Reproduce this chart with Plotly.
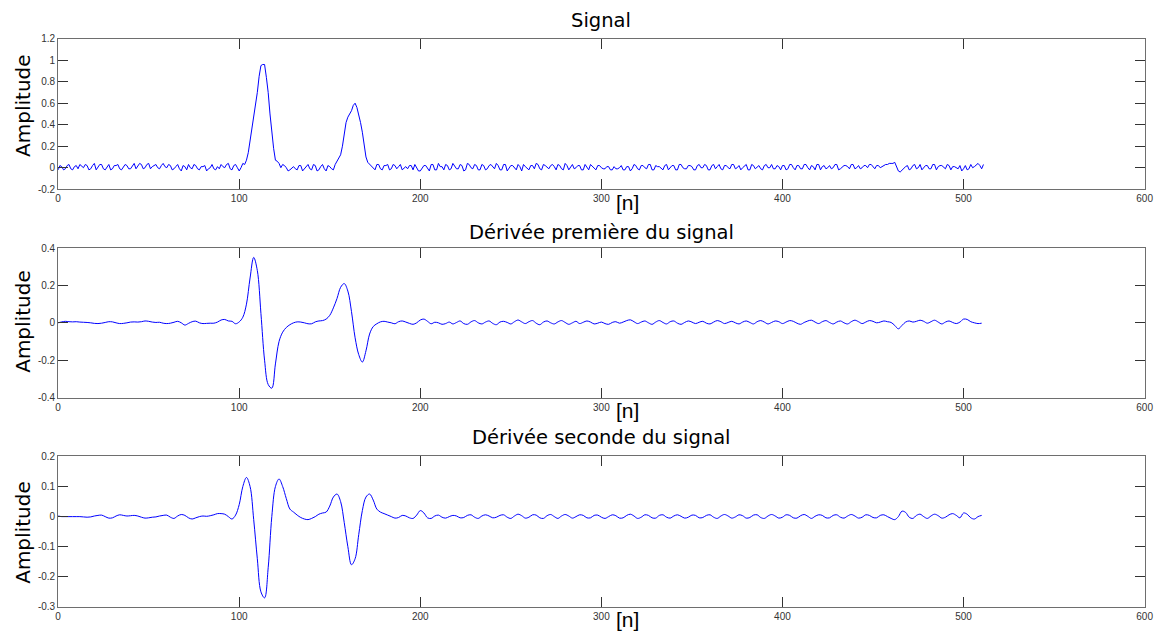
import plotly.graph_objects as go
from plotly.subplots import make_subplots

# ---------------- data ----------------
# even samples n = 0, 2, ..., 510
n_even = list(range(0, 512, 2))
# odd samples n = 1, 3, ..., 511
n_odd = list(range(1, 512, 2))

signal_even = [
    -0.02, 0.01, -0.01, 0.03, -0.02, 0.02, 0.03, 0.0, 0.02, -0.01,
    0.04, 0.0, 0.03, -0.02, 0.03, -0.01, 0.02, -0.01, 0.01, 0.02,
    -0.01, 0.04, 0.01, 0.03, 0.0, 0.04, 0.01, 0.03, -0.01, 0.04,
    0.0, 0.02, -0.01, 0.03, -0.03, 0.01, 0.03, -0.01, 0.02, -0.02,
    0.01, -0.03, 0.0, -0.01, 0.01, 0.03, 0.0, 0.04, -0.02, 0.03,
    -0.03, 0.04,
    0.07, 0.25, 0.45, 0.7, 0.95, 0.96, 0.7, 0.3, 0.07, 0.04,
    0.03, 0.0, -0.02, 0.01, -0.02, 0.02, -0.01, 0.03, -0.02, 0.02,
    -0.02, 0.03, -0.03, 0.01, -0.02, 0.06, 0.12, 0.3, 0.47, 0.53,
    0.6, 0.5, 0.33, 0.1, 0.03,
    0.0, 0.03, -0.01, 0.02, 0.03, -0.01, 0.02, 0.01, -0.02, 0.01,
    0.02, -0.02, 0.0, -0.03, 0.02, -0.01, 0.03, -0.02, 0.04, 0.01,
    0.03, -0.02, 0.04, -0.01, 0.03, -0.03, 0.04, 0.0, 0.03, -0.02,
    0.03, -0.02, 0.02, 0.01, 0.04, -0.02, 0.03, -0.03, 0.02, 0.0,
    0.03, -0.03, 0.01, -0.02, 0.02, 0.04, -0.01, 0.03, 0.0, 0.02,
    0.01, 0.03, -0.01, 0.04, -0.02, 0.03, 0.0, 0.02, -0.02, 0.01,
    0.03, -0.01, 0.02, 0.0, -0.01, 0.01, -0.02, -0.01, 0.0, -0.02,
    0.01, -0.03, 0.03, -0.01, 0.02, 0.0, 0.03, -0.02, 0.02, 0.01,
    -0.02, 0.03, 0.0, 0.02, -0.02, 0.03, -0.01, 0.02, 0.01, -0.02,
    0.03, 0.0, 0.02, -0.02, 0.03, 0.01, -0.01, 0.02, 0.0, 0.03,
    -0.01, 0.02, 0.0, 0.03, -0.02, 0.02, 0.01, -0.01, 0.02, 0.0,
    0.03, -0.01, 0.01, 0.02, -0.02, 0.03, 0.0, 0.02, -0.01, 0.03,
    0.0, 0.02, -0.02, 0.03, 0.01, -0.01, 0.02, 0.0, 0.03, -0.01,
    0.02, 0.01, 0.03, -0.01, 0.02, 0.0, 0.02, 0.03, 0.01, 0.02,
    0.0, 0.02, 0.03, 0.04, 0.05, -0.03, -0.02, 0.01, -0.02, 0.02,
    -0.01, 0.03, 0.0, 0.02, -0.01, 0.03, 0.01, 0.02, -0.01, 0.02,
    0.01, 0.0, 0.02, -0.01, -0.02, 0.03, 0.01, 0.04, -0.01,
]

signal_odd = [
    0.02, -0.02, 0.02, -0.01, 0.01, -0.01, 0.01, 0.03, -0.02, 0.02,
    -0.02, 0.03, -0.01, 0.01, -0.02, 0.02, 0.03, -0.02, 0.03, -0.01,
    0.02, -0.01, 0.04, -0.01, 0.03, -0.01, 0.02, 0.0, 0.02, 0.01,
    0.03, -0.02, 0.01, -0.01, 0.02, -0.02, 0.0, 0.03, -0.01, 0.01,
    0.02, -0.01, 0.03, -0.02, -0.01, 0.01, 0.03, -0.01, 0.02, 0.0,
    0.0, 0.03, 0.14, 0.36, 0.58, 0.85, 0.96, 0.84, 0.5, 0.18,
    0.06, 0.0, 0.02, -0.03, 0.0, -0.01, 0.02, -0.03, 0.01, -0.01,
    0.03, -0.03, 0.01, -0.01, 0.02, -0.01, 0.03, 0.08, 0.2, 0.42,
    0.5, 0.58, 0.56, 0.42, 0.22, 0.05, 0.02, -0.02, 0.03, -0.02,
    0.02, -0.02, 0.03, -0.01, 0.03, 0.0, -0.01, 0.02, 0.03, -0.03,
    0.0, 0.02, -0.03, 0.03, -0.02, 0.01, -0.02, 0.02, -0.01, 0.02,
    -0.01, 0.02, -0.02, 0.03, -0.01, 0.02, -0.02, 0.02, -0.01, 0.03,
    -0.01, 0.02, -0.02, 0.03, -0.01, 0.02, -0.02, 0.01, 0.03, -0.01,
    0.02, -0.01, 0.03, -0.02, 0.02, -0.01, 0.03, -0.02, 0.02, -0.02,
    0.02, 0.0, -0.01, 0.02, -0.02, 0.03, -0.02, 0.01, -0.02, 0.02,
    -0.01, 0.01, -0.02, 0.01, -0.01, 0.02, -0.02, 0.01, -0.01, 0.02,
    -0.02, 0.02, -0.01, 0.03, -0.02, 0.01, -0.01, 0.02, -0.02, 0.02,
    -0.02, 0.03, 0.0, -0.01, 0.02, -0.02, 0.02, 0.0, 0.03, -0.02,
    0.02, -0.01, 0.03, -0.02, 0.02, -0.01, 0.03, 0.0, -0.02, 0.02,
    -0.02, 0.03, -0.01, 0.02, -0.02, 0.03, 0.0, -0.01, 0.02, -0.02,
    0.02, -0.01, 0.03, -0.02, 0.02, -0.01, 0.03, -0.02, 0.01, 0.03,
    -0.02, 0.02, 0.0, -0.01, 0.03, -0.02, 0.01, 0.02, -0.01, 0.03,
    0.0, -0.01, 0.02, 0.0, 0.03, -0.01, 0.02, 0.01, 0.03, 0.04,
    0.04, 0.01, -0.04, 0.0, 0.02, -0.01, 0.03, 0.0, -0.02, 0.02,
    -0.01, 0.03, -0.02, 0.02, 0.0, 0.03, -0.02, 0.01, -0.01, -0.03,
    0.02, -0.01, 0.0, 0.03, 0.02, 0.03,
]

deriv1 = [
    0.0, 0.005, 0.008, 0.006, 0.005, 0.006, 0.004, 0.003, 0.002, 0.0,
    -0.003, -0.004, -0.002, 0.002, 0.006, 0.005, 0.0, -0.004, -0.003, 0.0,
    0.004, 0.005, 0.004, 0.006, 0.01, 0.008, 0.004, 0.002, 0.003, -0.002,
    -0.004, -0.002, 0.003, 0.008, 0.0, -0.012, -0.003, 0.006, 0.009, 0.0,
    -0.004, -0.003, -0.002, -0.002, 0.004, 0.015, 0.018, 0.01, 0.008, -0.005,
    0.005, 0.03, 0.1, 0.24, 0.35, 0.28, 0.05, -0.2, -0.33, -0.35,
    -0.22, -0.1, -0.05, -0.025, -0.01, 0.0, 0.005, 0.004, 0.0, -0.005,
    -0.005, 0.005, 0.01, 0.012, 0.02, 0.04, 0.08, 0.13, 0.19, 0.21,
    0.17, 0.06, -0.08, -0.17, -0.21, -0.15, -0.06, -0.02, -0.005, 0.005,
    0.008, 0.004, 0.0, -0.005, 0.006, 0.01, 0.004, -0.003, -0.008, 0.0,
    0.015, 0.02, 0.008, -0.005, 0.003, 0.0, -0.008, -0.004, 0.004, -0.006,
    0.002, 0.01, -0.004, -0.008, 0.005, 0.012, 0.0, -0.006, 0.004, 0.01,
    -0.003, -0.01, 0.004, 0.008, 0.002, -0.006, 0.006, 0.015, 0.005, -0.004,
    0.006, 0.012, -0.002, -0.01, 0.004, 0.01, 0.0, -0.006, 0.005, 0.012,
    0.002, -0.008, 0.0, 0.008, -0.004, 0.003, 0.01, 0.004, -0.006, -0.002,
    0.004, -0.004, -0.008, 0.002, 0.006, -0.002, 0.004, 0.012, 0.016, 0.006,
    -0.004, 0.004, 0.01, 0.0, -0.008, 0.004, 0.012, 0.002, -0.006, 0.006,
    0.01, -0.002, -0.008, 0.002, 0.01, 0.004, -0.004, 0.003, 0.008, -0.002,
    -0.006, 0.004, 0.012, 0.006, -0.004, 0.002, 0.008, 0.0, -0.006, 0.004,
    0.01, 0.002, -0.006, 0.006, 0.012, 0.004, -0.006, 0.002, 0.01, 0.006,
    -0.004, 0.004, 0.012, 0.008, -0.002, -0.008, 0.002, 0.01, 0.014, 0.004,
    -0.004, 0.006, 0.012, 0.002, -0.006, 0.004, 0.01, 0.0, -0.006, 0.006,
    0.014, 0.006, -0.004, 0.004, 0.012, 0.008, 0.0, 0.004, 0.01, 0.006,
    0.002, -0.014, -0.032, -0.014, 0.004, 0.01, 0.004, 0.008, 0.014, 0.008,
    -0.002, 0.006, 0.014, 0.004, -0.006, 0.004, 0.01, 0.002, -0.004, 0.004,
    0.02, 0.018, 0.006, 0.0, -0.004, -0.002,
]

deriv2 = [
    0.002, 0.0, 0.0, 0.0, 0.0, 0.0, 0.0, -0.001, -0.002, -0.001,
    0.002, 0.004, 0.005, 0.0, -0.005, -0.004, 0.002, 0.006, 0.004, 0.002,
    0.003, 0.004, 0.002, -0.002, -0.005, -0.004, -0.002, -0.001, 0.002, 0.004,
    0.005, -0.002, -0.006, 0.002, 0.007, 0.004, -0.004, -0.008, -0.004, 0.0,
    0.002, 0.001, 0.003, 0.006, 0.01, 0.01, 0.008, 0.0, -0.008, 0.005,
    0.04, 0.1, 0.13, 0.1, -0.01, -0.14, -0.25, -0.27, -0.17, 0.0,
    0.1, 0.125, 0.1, 0.06, 0.025, 0.015, 0.005, -0.003, -0.008, -0.01,
    -0.006, 0.0, 0.008, 0.012, 0.015, 0.035, 0.065, 0.075, 0.05, -0.02,
    -0.1, -0.16, -0.14, -0.06, 0.02, 0.065, 0.075, 0.055, 0.025, 0.015,
    0.01, 0.005, 0.0, -0.005, -0.003, 0.004, 0.002, -0.004, -0.006, 0.005,
    0.02, 0.012, -0.004, -0.006, 0.002, 0.005, -0.002, -0.005, 0.0, 0.004,
    0.002, -0.004, -0.003, 0.004, 0.006, -0.002, -0.006, 0.002, 0.006, 0.002,
    -0.004, -0.002, 0.004, 0.006, -0.002, -0.006, 0.002, 0.008, 0.003, -0.005,
    -0.002, 0.006, 0.005, -0.004, -0.006, 0.003, 0.007, 0.0, -0.006, 0.002,
    0.007, 0.002, -0.005, 0.0, 0.006, 0.004, -0.004, -0.004, 0.004, 0.005,
    -0.002, -0.006, 0.0, 0.006, 0.003, -0.005, -0.004, 0.004, 0.008, 0.002,
    -0.006, -0.002, 0.006, 0.004, -0.004, -0.005, 0.004, 0.006, -0.002, -0.005,
    0.002, 0.006, 0.001, -0.005, -0.002, 0.005, 0.004, -0.004, -0.003, 0.004,
    0.006, -0.002, -0.006, 0.002, 0.007, 0.002, -0.005, -0.001, 0.006, 0.003,
    -0.005, -0.003, 0.005, 0.006, -0.003, -0.006, 0.002, 0.007, 0.002, -0.005,
    -0.002, 0.006, 0.004, -0.004, -0.005, 0.003, 0.007, 0.001, -0.006, 0.001,
    0.006, 0.004, -0.004, -0.004, 0.004, 0.006, -0.002, -0.005, 0.002, 0.007,
    0.002, -0.005, -0.002, 0.006, 0.004, -0.003, -0.004, 0.004, 0.006, 0.0,
    -0.006, -0.01, 0.0, 0.018, 0.014, -0.002, -0.006, 0.004, 0.008, 0.0,
    -0.006, 0.002, 0.008, 0.003, -0.005, -0.002, 0.006, 0.01, 0.004, -0.004,
    0.012, 0.008, -0.004, -0.008, 0.0, 0.004,
]

titles = ["Signal", "Dérivée première du signal", "Dérivée seconde du signal"]
x_ticks = [0, 100, 200, 300, 400, 500, 600]
y_ticks = [
    [-0.2, 0, 0.2, 0.4, 0.6, 0.8, 1, 1.2],
    [-0.4, -0.2, 0, 0.2, 0.4],
    [-0.3, -0.2, -0.1, 0, 0.1, 0.2],
]
y_ticktext = [
    ["-0.2", "0", "0.2", "0.4", "0.6", "0.8", "1", "1.2"],
    ["-0.4", "-0.2", "0", "0.2", "0.4"],
    ["-0.3", "-0.2", "-0.1", "0", "0.1", "0.2"],
]

# merge even/odd samples of the signal into one series ordered by n
n_signal = [v for pair in zip(n_even, n_odd) for v in pair]
signal = [v for pair in zip(signal_even, signal_odd) for v in pair]

series_x = [n_signal, n_even, n_even]
series_y = [signal, deriv1, deriv2]
shapes_line = ["linear", "spline", "spline"]

# ---------------- layout (pixel geometry) ----------------
W, H = 1166, 643
x_left, x_right = 55.7, 1153.5
panels_px = [(33.3, 186.7), (246.7, 399.0), (459.0, 612.3)]
title_y_px = [15.0, 230.5, 440.0]
ylabel_y_px = [101, 321, 536]
xlabel_y_px = [200.0, 412.5, 625.5]


def px_x(p):
    return p / W


def px_y(p):
    return 1 - p / H


fig = make_subplots(rows=3, cols=1)
axis_col = "#6e6e6e"
tick_col = "#333333"
font_lab = dict(family="Liberation Sans, Arial, sans-serif", size=10, color="#333333")

annotations = []
for i in range(3):
    r = i + 1
    line = dict(color="#0000ff", width=1, shape=shapes_line[i])
    if shapes_line[i] == "spline":
        line["smoothing"] = 1.0
    fig.add_trace(
        go.Scatter(x=series_x[i], y=series_y[i], mode="lines",
                   line=line, showlegend=False),
        row=r, col=1,
    )
    top, bot = panels_px[i]
    fig.update_xaxes(
        domain=[px_x(x_left), px_x(x_right)], range=[0, 600],
        tickvals=x_ticks, ticktext=[str(v) for v in x_ticks],
        ticks="inside", ticklen=10, tickcolor=tick_col, tickwidth=1,
        showline=True, linecolor=axis_col, linewidth=1, mirror="ticks",
        showgrid=False, zeroline=False, tickfont=font_lab,
        row=r, col=1,
    )
    fig.update_yaxes(
        domain=[px_y(bot), px_y(top)], range=[y_ticks[i][0], y_ticks[i][-1]],
        tickvals=y_ticks[i], ticktext=y_ticktext[i],
        ticks="inside", ticklen=10, tickcolor=tick_col, tickwidth=1,
        showline=True, linecolor=axis_col, linewidth=1, mirror="ticks",
        showgrid=False, zeroline=False, tickfont=font_lab,
        row=r, col=1,
    )
    annotations.append(dict(
        text=titles[i], x=px_x((x_left + x_right) / 2), y=px_y(title_y_px[i]),
        xref="paper", yref="paper", xanchor="center", yanchor="middle",
        showarrow=False, font=dict(family="DejaVu Sans", size=19.5, color="#000000"),
    ))
    annotations.append(dict(
        text="Amplitude", x=px_x(20), y=px_y(ylabel_y_px[i]), textangle=-90,
        xref="paper", yref="paper", xanchor="center", yanchor="middle",
        showarrow=False, font=dict(family="DejaVu Sans", size=20, color="#000000"),
    ))
    annotations.append(dict(
        text="[n]", x=px_x(631), y=px_y(xlabel_y_px[i]),
        xref="paper", yref="paper", xanchor="center", yanchor="middle",
        showarrow=False, font=dict(family="Liberation Sans", size=21, color="#000000"),
    ))

fig.update_layout(
    width=W, height=H, margin=dict(l=0, r=0, t=0, b=0),
    paper_bgcolor="#ffffff", plot_bgcolor="#ffffff",
    annotations=annotations, showlegend=False,
)

fig.write_html("out.html")
